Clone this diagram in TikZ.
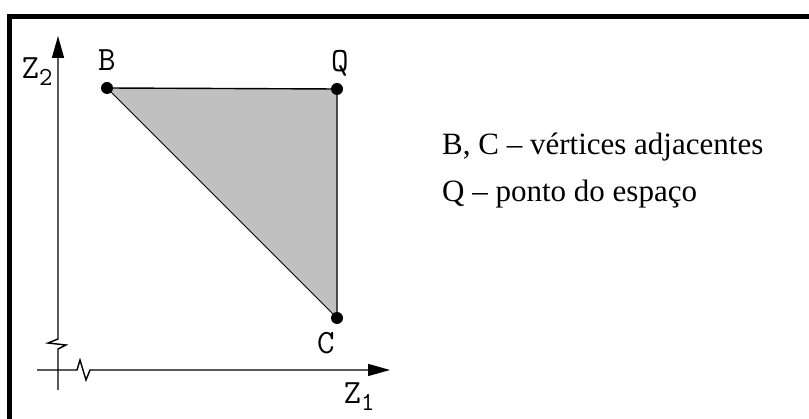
\documentclass[tikz,border=0pt]{standalone}
\usepackage{fontspec}
\setmainfont{Liberation Serif}
\usetikzlibrary{arrows.meta}
\definecolor{fillgray}{RGB}{192,192,192}
\newcommand{\subsc}[1]{\raisebox{-7pt}{\fontsize{26}{26}\selectfont #1}}
\tikzset{
  frameline/.style={line width=5pt, line cap=butt},
  axisline/.style={line width=1.4pt},
  edgeline/.style={line width=1.4pt},
  vdot/.style={circle, fill=black, inner sep=0pt, minimum size=12pt},
  lab/.style={font=\ttfamily\fontsize{34}{34}\selectfont, inner sep=0pt},
  note/.style={font=\fontsize{31}{31}\selectfont, anchor=base west, inner sep=0pt},
  tip/.style={-{Triangle[length=22pt,width=12pt]}}
}
\begin{document}
\begin{tikzpicture}[x=1pt,y=-1pt]
\useasboundingbox (0,0) rectangle (809,419);
% frame
\draw[frameline] (7,16.5) -- (809,16.5);
\draw[frameline] (9.5,14) -- (9.5,419);
% triangle
\coordinate (B) at (107,88);
\coordinate (Q) at (337,89);
\coordinate (C) at (337,318);
\fill[fillgray] (B) -- (Q) -- (C) -- cycle;
\draw[edgeline] (B) -- (Q) -- (C);
\draw[line width=1pt] (B) -- (C);
\node[vdot] (Bd) at (B) {};
\node[vdot] (Qd) at (Q) {};
\node[vdot] (Cd) at (C) {};
% axes
\coordinate (v0) at (58,390);
\coordinate (v1) at (58,349);
\coordinate (v2) at (66,345);
\coordinate (v3) at (48,343);
\coordinate (v4) at (58,339);
\coordinate (vt) at (58,36);
\draw[axisline, tip] (v0) -- (v1) -- (v2) -- (v3) -- (v4) -- (vt);
\coordinate (h0) at (37,370);
\coordinate (h1) at (77,370);
\coordinate (h2) at (80,360);
\coordinate (h3) at (86,380);
\coordinate (h4) at (90,370);
\coordinate (ht) at (390,370);
\draw[axisline, tip] (h0) -- (h1) -- (h2) -- (h3) -- (h4) -- (ht);
% labels
\node[lab] (lB) at (107,60) {B};
\node[lab] (lQ) at (340,63) {Q};
\node[lab] (lC) at (326,343) {C};
\node[lab] (lZ2) at (37,72) {Z\subsc{2}};
\node[lab] (lZ1) at (359,397) {Z\subsc{1}};
% notes
\node[note] (n1) at (442,155) {B, C – vértices adjacentes};
\node[note] (n2) at (442,202) {Q – ponto do espaço};
\end{tikzpicture}
\end{document}
